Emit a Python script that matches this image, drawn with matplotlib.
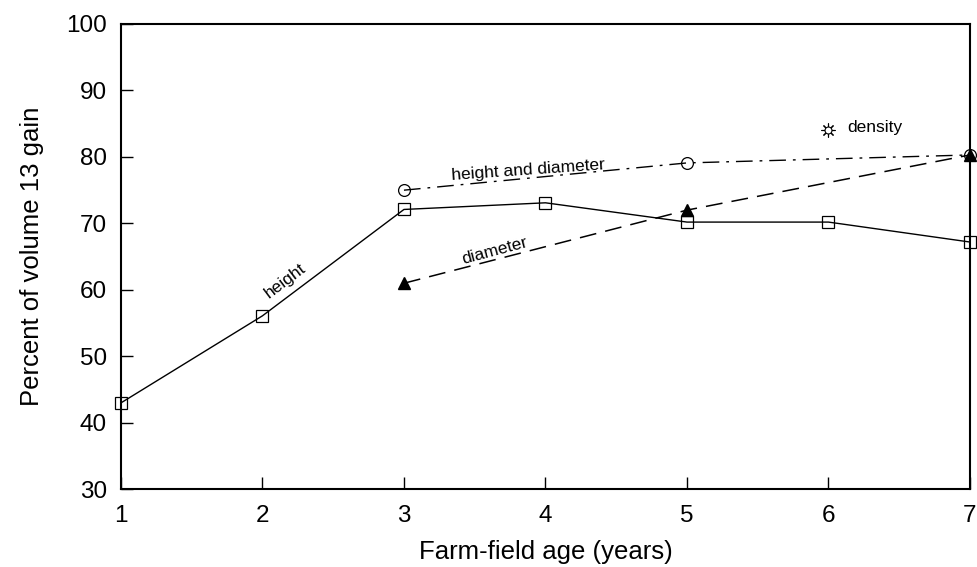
import matplotlib
matplotlib.use("Agg")
import matplotlib.pyplot as plt

plt.rcParams['font.family'] = ['Liberation Sans', 'DejaVu Sans']

# valores
years = [1, 2, 3, 4, 5, 6, 7]
height = [43.0, 56.1, 72.1, 73.1, 70.2, 70.2, 67.2]

years_hd = [3, 5, 7]
height_diam = [75.0, 79.1, 80.3]

years_d = [3, 5, 7]
diameter = [61.0, 72.0, 80.3]

years_dens = [6]
density = [84.1]

fig = plt.figure(figsize=(9.77, 5.67), dpi=100)
ax = fig.add_axes([0.1238, 0.137, 0.869, 0.8207])

ax.plot(years, height, color='black', lw=1.0, marker='s', ms=8.5,
        mfc='none', mec='black', mew=0.9, clip_on=False, zorder=3)
ax.plot(years_hd, height_diam, color='black', lw=1.0,
        linestyle=(0, (12, 5, 2, 5)), marker='o', ms=8.5,
        mfc='none', mec='black', mew=0.9, clip_on=False, zorder=3)
ax.plot(years_d, diameter, color='black', lw=1.1,
        linestyle=(0, (11, 6)), marker='^', ms=9,
        mfc='black', mec='black', clip_on=False, zorder=4)

# simbolo de densidad (sol)
ax.plot(years_dens, density, linestyle='none', marker=(8, 2, 0), ms=10,
        mec='black', mew=0.8, zorder=3)
ax.plot(years_dens, density, linestyle='none', marker='o', ms=5,
        mfc='white', mec='black', mew=0.8, zorder=4)

# etiquetas de las series
ax.text(2.16, 61.3, 'height', fontsize=12.5, rotation=37,
        ha='center', va='center')
ax.text(3.88, 78.0, 'height and diameter', fontsize=12.5, rotation=4,
        ha='center', va='center')
ax.text(3.64, 65.9, 'diameter', fontsize=12.5, rotation=15,
        ha='center', va='center')
ax.text(6.13, 84.4, 'density', fontsize=12.5, ha='left', va='center')

ax.set_xlim(1, 7)
ax.set_ylim(30, 100)
ax.set_xticks(years)
ax.set_yticks(range(30, 101, 10))

ax.tick_params(direction='in', length=8.6, width=1.0, labelsize=17.5)
ax.tick_params(axis='y', pad=10)
ax.tick_params(axis='x', pad=11)
for s in ax.spines.values():
    s.set_linewidth(1.5)

ax.set_xlabel('Farm-field age (years)', fontsize=18.5, labelpad=10)
ax.set_ylabel('Percent of volume 13 gain', fontsize=18.5, labelpad=16)

fig.savefig('out.png', dpi=100)
